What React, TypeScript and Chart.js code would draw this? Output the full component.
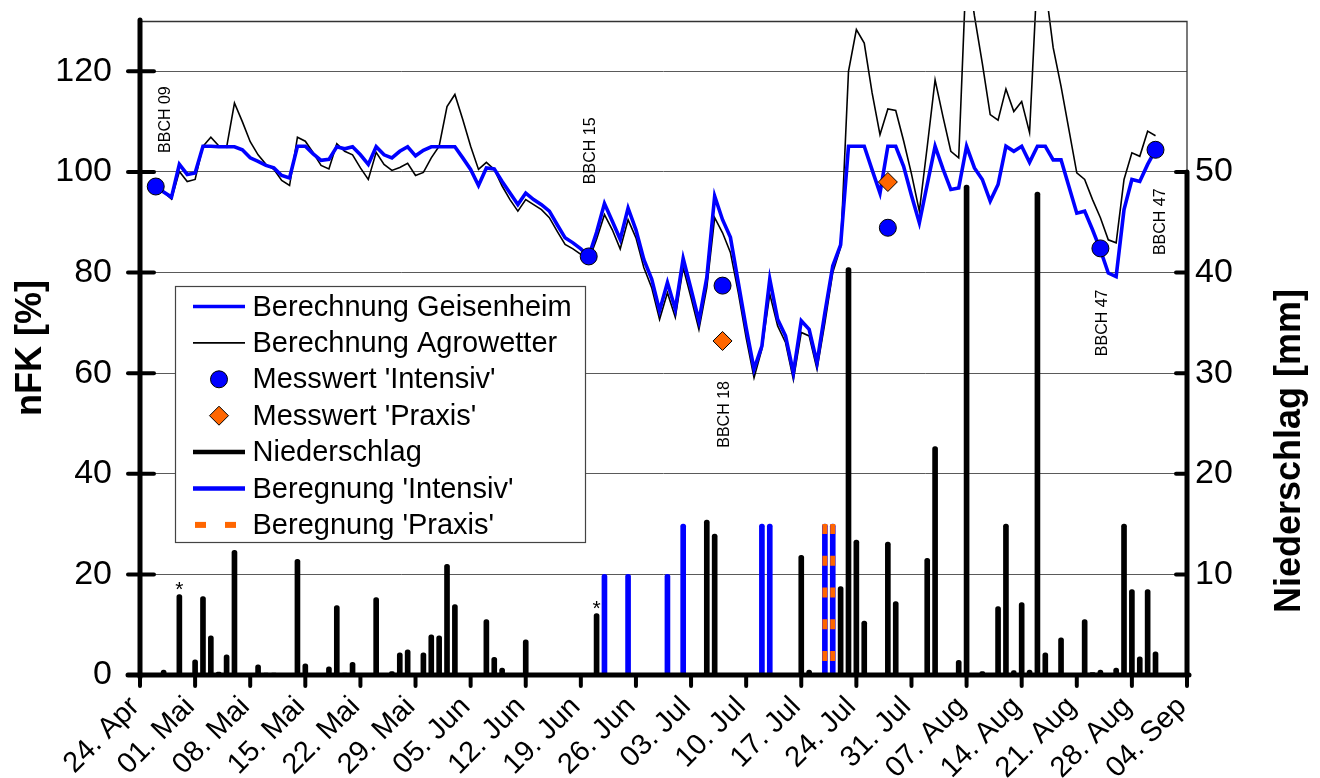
import { useEffect, useRef } from "react";
import { Chart, registerables } from "chart.js";

Chart.register(...registerables);

const FONT = '"Liberation Sans", Arial, Helvetica, sans-serif';
const BLUE = "#0000ff";
const ORANGE = "#ff6600";
const GRID = "#5a5a5a";
const CLEAR = "rgba(0,0,0,0)";

// x axis: days counted from 24 April, one tick per week up to 4 September
const TICK_LABELS = [
  "24. Apr", "01. Mai", "08. Mai", "15. Mai", "22. Mai", "29. Mai", "05. Jun",
  "12. Jun", "19. Jun", "26. Jun", "03. Jul", "10. Jul", "17. Jul", "24. Jul",
  "31. Jul", "07. Aug", "14. Aug", "21. Aug", "28. Aug", "04. Sep",
];
const TICK_STEP = 7;
const X_MAX = 133;

const NFK_MAX = 130;
const NFK_TICKS = [0, 20, 40, 60, 80, 100, 120];
const NS_MAX = 65;
const NS_TICKS = [10, 20, 30, 40, 50];

// daily soil water balance (nFK %), first value on day 2 (26 April)
const FIRST_DAY = 2;
const GEISENHEIM = [
  97.2, 96.0, 95.0, 101.5, 99.5, 99.8, 105.1, 105.1, 105.0, 105.0,
  105.0, 104.4, 102.8, 102.1, 101.3, 100.8, 99.3, 98.8, 105.1, 105.1,
  103.6, 102.3, 102.5, 105.0, 104.6, 105.0, 103.4, 101.5, 105.0, 103.4,
  102.8, 104.1, 105.0, 103.2, 104.3, 105.0, 105.0, 105.0, 105.0, 102.8,
  100.5, 97.3, 100.8, 100.6, 98.1, 95.8, 93.5, 95.8, 94.5, 93.5,
  92.2, 89.5, 86.9, 85.9, 84.7, 83.2, 88.0, 93.7, 90.2, 86.6,
  92.8, 88.5, 82.6, 78.7, 72.4, 78.0, 72.7, 82.8, 76.7, 70.4,
  79.0, 95.2, 90.5, 87.0, 78.0, 69.0, 60.8, 65.4, 78.7, 70.7,
  67.4, 60.1, 70.4, 68.7, 62.1, 72.0, 81.3, 85.5, 105.1, 105.1,
  105.1, 100.4, 95.8, 105.1, 105.1, 101.1, 95.3, 89.9, 97.5, 105.1,
  100.6, 96.5, 96.8, 105.1, 100.8, 98.5, 94.2, 97.5, 105.1, 104.1,
  105.1, 101.9, 105.1, 105.1, 102.4, 102.4, 97.1, 91.8, 92.2, 88.5,
  84.5, 79.9, 79.2, 92.5, 98.5, 98.1, 101.5, 104.4,
];
const AGROWETTER = [
  97.0, 96.0, 94.6, 100.1, 98.1, 98.5, 105.1, 106.9, 105.2, 104.9,
  113.7, 110.0, 106.0, 103.4, 101.5, 100.5, 98.3, 97.3, 106.9, 106.1,
  103.8, 101.3, 100.6, 105.6, 104.1, 103.4, 100.8, 98.5, 103.9, 101.5,
  100.3, 100.9, 101.7, 99.3, 99.9, 102.8, 105.1, 113.0, 115.4, 110.4,
  105.1, 100.5, 101.9, 100.5, 97.2, 94.5, 92.2, 94.5, 93.5, 92.5,
  90.9, 88.2, 85.6, 84.7, 83.6, 82.4, 86.6, 91.5, 88.5, 84.7,
  90.5, 86.9, 81.0, 77.0, 70.7, 76.0, 71.1, 81.0, 75.0, 68.7,
  77.0, 90.9, 87.9, 84.0, 76.0, 67.0, 59.1, 64.8, 75.7, 69.4,
  66.1, 58.7, 68.1, 67.4, 60.8, 70.0, 80.0, 85.0, 120.0, 128.3,
  125.6, 115.7, 107.4, 112.5, 112.2, 106.2, 99.6, 92.2, 105.0, 118.3,
  111.0, 104.1, 102.8, 142.0, 131.0, 121.6, 111.4, 110.3, 116.5, 112.0,
  114.0, 107.8, 140.0, 137.0, 124.7, 117.0, 108.4, 99.8, 98.5, 94.5,
  90.9, 86.5, 85.9, 98.5, 103.8, 103.1, 108.1, 107.2,
];

// soil moisture measurements (nFK %)
const MESS_INTENSIV_TAG = [2, 57, 74, 95, 122, 129];
const MESS_INTENSIV = [97.1, 83.2, 77.4, 88.9, 84.8, 104.4];
const MESS_PRAXIS_TAG = [74, 95];
const MESS_PRAXIS = [66.4, 98.0];

// rainfall (mm)
const NIEDERSCHLAG_TAG = [
  3, 5, 7, 8, 9, 10, 11, 12, 15, 16, 17, 20, 21, 24, 25, 26, 27, 30, 32, 33, 34,
  36, 37, 38, 39, 40, 44, 45, 46, 49, 58, 72, 73, 84, 85, 89, 90, 91, 92, 95, 96,
  100, 101, 104, 105, 107, 109, 110, 111, 112, 113, 114, 115, 117, 120, 121, 122,
  124, 125, 126, 127, 128, 129,
];
const NIEDERSCHLAG_MM = [
  0.5, 8.0, 1.5, 7.8, 3.9, 0.3, 2.0, 12.4, 1.0, 0.2, 0.2, 11.5, 1.1, 0.8, 6.9, 0.2, 1.25, 7.7, 0.35, 2.2, 2.5,
  2.2, 4.0, 3.9, 11.0, 7.0, 5.5, 1.75, 0.7, 3.5, 6.1, 15.4, 14.0, 11.9, 0.5, 8.8, 40.5, 13.4, 5.35, 13.2, 7.3,
  11.6, 22.7, 1.45, 48.7, 0.35, 6.8, 15.0, 0.45, 7.2, 0.5, 48.0, 2.2, 3.7, 5.5, 0.25, 0.5,
  0.7, 15.0, 8.5, 1.8, 8.5, 2.3,
];
// rainfall days marked with an asterisk
const STERN_TAG = [5, 58];

// irrigation (mm)
const BEREGNUNG_INTENSIV_TAG = [59, 62, 67, 69, 79, 80, 87, 88];
const BEREGNUNG_INTENSIV_MM = [10, 10, 10, 15, 15, 15, 15, 15];
const BEREGNUNG_PRAXIS_TAG = [87, 88];
const BEREGNUNG_PRAXIS_MM = [15, 15];

// growth stage notes
const BBCH_TEXT = ["BBCH 09", "BBCH 15", "BBCH 18", "BBCH 47", "BBCH 47"];
const BBCH_ANCHOR = [
  { tag: 3.2, nfk: 110.4 },
  { tag: 57.3, nfk: 104.2 },
  { tag: 74.3, nfk: 51.8 },
  { tag: 122.3, nfk: 70.0 },
  { tag: 129.6, nfk: 90.1 },
];

type LegendItem = { text: string; kind: "line" | "circle" | "diamond" | "dash"; color?: string; width?: number };
const LEGEND_ITEMS: LegendItem[] = [
  { text: "Berechnung Geisenheim", kind: "line", color: BLUE, width: 3.5 },
  { text: "Berechnung Agrowetter", kind: "line", color: "#000", width: 1.6 },
  { text: "Messwert 'Intensiv'", kind: "circle" },
  { text: "Messwert 'Praxis'", kind: "diamond" },
  { text: "Niederschlag", kind: "line", color: "#000", width: 4.5 },
  { text: "Beregnung 'Intensiv'", kind: "line", color: BLUE, width: 4.5 },
  { text: "Beregnung 'Praxis'", kind: "dash", color: ORANGE, width: 6 },
];

function seg(ctx: CanvasRenderingContext2D, x1: number, y1: number, x2: number, y2: number) {
  ctx.beginPath();
  ctx.moveTo(x1, y1);
  ctx.lineTo(x2, y2);
  ctx.stroke();
}

const overlayPlugin = {
  id: "overlay",
  afterDatasetsDraw(chart: any) {
    const { ctx, chartArea: a } = chart;
    const sx = chart.scales.x;
    const sy = chart.scales.y;
    const sr = chart.scales.y1;
    ctx.save();

    // plot frame: top edge and right edge
    ctx.strokeStyle = "#333";
    ctx.lineWidth = 1.3;
    ctx.beginPath();
    ctx.moveTo(a.left, a.top + 0.5);
    ctx.lineTo(a.right, a.top + 0.5);
    ctx.lineTo(a.right, a.bottom);
    ctx.stroke();

    // thick axes
    ctx.strokeStyle = "#000";
    ctx.lineCap = "round";
    ctx.lineWidth = 5;
    seg(ctx, a.left, a.top - 1, a.left, a.bottom + 2);
    seg(ctx, a.left - 12, a.bottom, a.right + 2, a.bottom);
    seg(ctx, a.right, sr.getPixelForValue(NS_TICKS[NS_TICKS.length - 1]), a.right, a.bottom);

    // tick marks
    ctx.lineWidth = 4;
    NFK_TICKS.forEach((v) => {
      if (v === 0) return;
      const y = sy.getPixelForValue(v);
      seg(ctx, a.left - 12, y, a.left + 14, y);
    });
    NS_TICKS.forEach((v) => {
      const y = sr.getPixelForValue(v);
      seg(ctx, a.right - 11, y, a.right, y);
    });
    TICK_LABELS.forEach((_, i) => {
      const x = sx.getPixelForValue(i * TICK_STEP);
      seg(ctx, x, a.bottom, x, a.bottom + 11);
    });

    // growth stage labels
    ctx.fillStyle = "#000";
    ctx.font = `16px ${FONT}`;
    ctx.textAlign = "center";
    ctx.textBaseline = "middle";
    BBCH_TEXT.forEach((t, i) => {
      const p = BBCH_ANCHOR[i];
      ctx.save();
      ctx.translate(sx.getPixelForValue(p.tag), sy.getPixelForValue(p.nfk));
      ctx.rotate(-Math.PI / 2);
      ctx.fillText(t, 0, 0);
      ctx.restore();
    });

    // asterisks above marked rainfall bars
    ctx.font = `21px ${FONT}`;
    ctx.textBaseline = "alphabetic";
    STERN_TAG.forEach((t) => {
      const k = NIEDERSCHLAG_TAG.indexOf(t);
      if (k < 0) return;
      ctx.fillText("*", sx.getPixelForValue(t), sr.getPixelForValue(NIEDERSCHLAG_MM[k]) + 1);
    });

    // legend box
    const bx = a.left + 35.5;
    const by = 286.5;
    const bw = 410;
    const bh = 256;
    ctx.fillStyle = "#fff";
    ctx.fillRect(bx, by, bw, bh);
    ctx.strokeStyle = "#444";
    ctx.lineWidth = 1.2;
    ctx.strokeRect(bx, by, bw, bh);
    ctx.font = `29px ${FONT}`;
    ctx.textAlign = "left";
    ctx.textBaseline = "middle";
    LEGEND_ITEMS.forEach((it, i) => {
      const cy = by + 20 + i * 36.4;
      const x0 = bx + 17.5;
      const x1 = bx + 69.5;
      const cx = (x0 + x1) / 2;
      ctx.lineCap = "butt";
      if (it.kind === "line") {
        ctx.strokeStyle = it.color!;
        ctx.lineWidth = it.width!;
        seg(ctx, x0, cy, x1, cy);
      } else if (it.kind === "dash") {
        ctx.strokeStyle = it.color!;
        ctx.lineWidth = it.width!;
        seg(ctx, x0 + 2, cy, x0 + 13, cy);
        seg(ctx, x0 + 32, cy, x0 + 43, cy);
      } else if (it.kind === "circle") {
        ctx.beginPath();
        ctx.arc(cx, cy, 8.5, 0, Math.PI * 2);
        ctx.fillStyle = BLUE;
        ctx.fill();
        ctx.strokeStyle = "#000";
        ctx.lineWidth = 1;
        ctx.stroke();
      } else {
        const r = 9.5;
        ctx.beginPath();
        ctx.moveTo(cx - r, cy);
        ctx.lineTo(cx, cy - r);
        ctx.lineTo(cx + r, cy);
        ctx.lineTo(cx, cy + r);
        ctx.closePath();
        ctx.fillStyle = ORANGE;
        ctx.fill();
        ctx.strokeStyle = "#000";
        ctx.lineWidth = 1;
        ctx.stroke();
      }
      ctx.fillStyle = "#000";
      ctx.fillText(it.text, bx + 77, cy + 1);
    });

    // right axis title
    ctx.save();
    ctx.translate(sr.right - 30, a.bottom - 224);
    ctx.rotate(-Math.PI / 2);
    ctx.font = `bold 36px ${FONT}`;
    ctx.textAlign = "center";
    ctx.textBaseline = "middle";
    ctx.fillStyle = "#000";
    ctx.fillText("Niederschlag [mm]", 0, 0);
    ctx.restore();

    ctx.restore();
  },
};

const daily = (vals: number[]) => vals.map((v, i) => ({ x: FIRST_DAY + i, y: v }));
const pairs = (tags: number[], vals: number[]) => tags.map((t, i) => ({ x: t, y: vals[i] }));
const verticals = (tags: number[], vals: number[]) =>
  tags.flatMap((t, i) => [
    { x: t, y: vals[i] },
    { x: t, y: 0 },
    { x: t, y: null as any },
  ]);

export default function App() {
  const ref = useRef<HTMLCanvasElement>(null);

  useEffect(() => {
    const canvas = ref.current;
    if (!canvas) return;
    Chart.defaults.font.family = FONT;
    Chart.defaults.color = "#000";

    const lineClip = { left: 5, top: 10, right: 5, bottom: 5 };

    const chart = new Chart(canvas, {
      type: "line",
      data: {
        datasets: [
          {
            type: "bar",
            label: "Niederschlag",
            data: pairs(NIEDERSCHLAG_TAG, NIEDERSCHLAG_MM),
            yAxisID: "y1",
            backgroundColor: "#000",
            barThickness: 5,
            grouped: false,
            borderRadius: { topLeft: 2.5, topRight: 2.5, bottomLeft: 0, bottomRight: 0 },
            borderSkipped: "bottom",
            order: 6,
          } as any,
          {
            type: "bar",
            label: "Beregnung 'Intensiv'",
            data: pairs(BEREGNUNG_INTENSIV_TAG, BEREGNUNG_INTENSIV_MM),
            yAxisID: "y1",
            backgroundColor: BLUE,
            barThickness: 5,
            grouped: false,
            borderRadius: { topLeft: 2.5, topRight: 2.5, bottomLeft: 0, bottomRight: 0 },
            borderSkipped: "bottom",
            order: 5,
          } as any,
          {
            label: "Beregnung 'Praxis'",
            data: verticals(BEREGNUNG_PRAXIS_TAG, BEREGNUNG_PRAXIS_MM),
            yAxisID: "y1",
            borderColor: ORANGE,
            borderWidth: 5,
            borderDash: [10, 21.7],
            borderCapStyle: "butt",
            pointRadius: 0,
            spanGaps: false,
            order: 4,
          },
          {
            label: "Berechnung Agrowetter",
            data: daily(AGROWETTER),
            yAxisID: "y",
            borderColor: "#000",
            borderWidth: 1.6,
            pointRadius: 0,
            tension: 0,
            clip: lineClip,
            order: 3,
          } as any,
          {
            label: "Berechnung Geisenheim",
            data: daily(GEISENHEIM),
            yAxisID: "y",
            borderColor: BLUE,
            borderWidth: 3.6,
            pointRadius: 0,
            tension: 0,
            order: 2,
          },
          {
            label: "Messwert 'Praxis'",
            data: pairs(MESS_PRAXIS_TAG, MESS_PRAXIS),
            yAxisID: "y",
            showLine: false,
            pointStyle: "rectRot",
            pointRadius: 9.5,
            pointBackgroundColor: ORANGE,
            pointBorderColor: "#000",
            pointBorderWidth: 1,
            order: 1,
          },
          {
            label: "Messwert 'Intensiv'",
            data: pairs(MESS_INTENSIV_TAG, MESS_INTENSIV),
            yAxisID: "y",
            showLine: false,
            pointStyle: "circle",
            pointRadius: 8.5,
            pointBackgroundColor: BLUE,
            pointBorderColor: "#000",
            pointBorderWidth: 1,
            order: 0,
          },
        ],
      },
      options: {
        responsive: false,
        animation: false,
        devicePixelRatio: 1,
        events: [],
        layout: { padding: { top: 21, left: 0, right: 0, bottom: 0 } },
        plugins: { legend: { display: false }, tooltip: { enabled: false } },
        scales: {
          x: {
            type: "linear",
            min: 0,
            max: X_MAX,
            offset: false,
            grid: { display: false, drawTicks: false },
            border: { display: false },
            afterBuildTicks: (s: any) => {
              s.ticks = TICK_LABELS.map((_, i) => ({ value: i * TICK_STEP }));
            },
            afterFit: (s: any) => {
              s.height = 103;
            },
            ticks: {
              autoSkip: false,
              maxRotation: 45,
              minRotation: 45,
              padding: 15,
              labelOffset: -5,
              font: { size: 29 },
              color: "#000",
              callback: (v: any) => TICK_LABELS[Math.round(Number(v) / TICK_STEP)] ?? "",
            },
          },
          y: {
            type: "linear",
            position: "left",
            min: 0,
            max: NFK_MAX,
            afterBuildTicks: (s: any) => {
              s.ticks = NFK_TICKS.map((v) => ({ value: v }));
            },
            afterFit: (s: any) => {
              s.width = 140;
            },
            // the hidden tick length keeps the labels clear of the axis
            grid: { color: GRID, lineWidth: 1, drawTicks: true, tickLength: 28, tickColor: CLEAR },
            border: { display: false },
            ticks: { padding: 0, font: { size: 34 }, color: "#000" },
            title: {
              display: true,
              text: "nFK [%]",
              color: "#000",
              font: { size: 36, weight: "bold" },
              padding: { top: 9, bottom: 0 },
            },
          },
          y1: {
            type: "linear",
            position: "right",
            min: 0,
            max: NS_MAX,
            afterBuildTicks: (s: any) => {
              s.ticks = NS_TICKS.map((v) => ({ value: v }));
            },
            afterFit: (s: any) => {
              s.width = 133;
            },
            grid: { display: true, drawOnChartArea: false, drawTicks: true, tickLength: 8, tickColor: CLEAR },
            border: { display: false },
            ticks: { padding: 0, font: { size: 34 }, color: "#000" },
          },
        },
      } as any,
      plugins: [overlayPlugin],
    });

    return () => chart.destroy();
  }, []);

  return (
    <div style={{ position: "absolute", left: 0, top: 0, width: 1320, height: 778, background: "#fff" }}>
      <canvas ref={ref} width={1320} height={778} style={{ display: "block", width: 1320, height: 778 }} />
    </div>
  );
}
